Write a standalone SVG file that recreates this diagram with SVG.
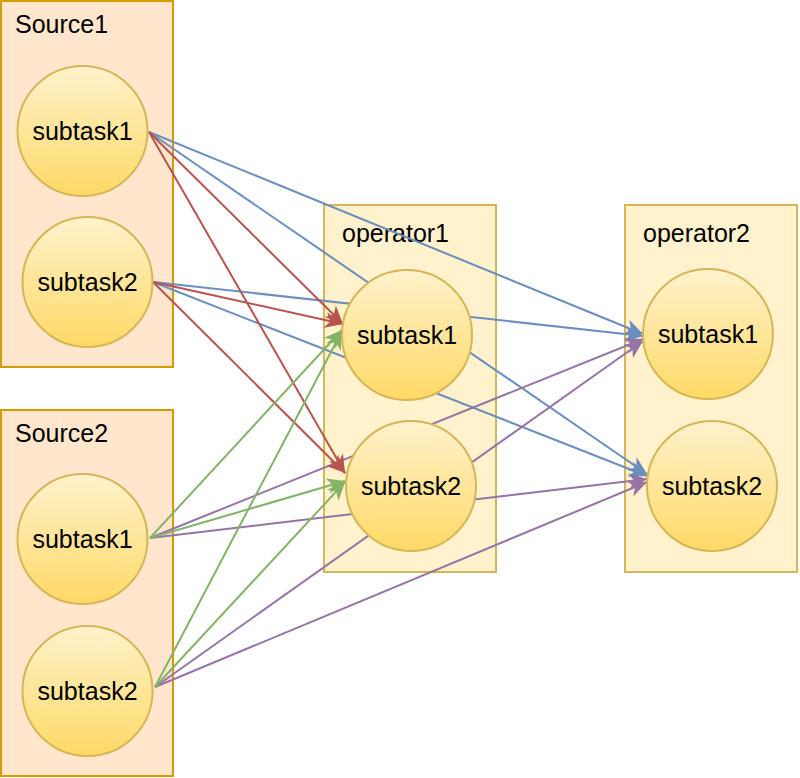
<svg xmlns="http://www.w3.org/2000/svg" width="800" height="778" viewBox="0 0 800 778">
  <style>
    .src { fill: #ffe6cc; stroke: #d79b00; stroke-width: 2; }
    .op { fill: #fff2cc; stroke: #d6b656; stroke-width: 2; }
    .task { fill: url(#taskGrad); stroke: #d6b656; stroke-width: 2; }
    text { font-family: "Liberation Sans", Arial, Helvetica, sans-serif; font-size: 25px; fill: #000; }
    .c { text-anchor: middle; }
    .e { fill: none; stroke-width: 2; }
    .red { stroke: #b85450; marker-end: url(#aRed); }
    .green { stroke: #82b366; marker-end: url(#aGreen); }
    .blue { stroke: #6c8ebf; marker-end: url(#aBlue); }
    .purple { stroke: #9673a6; marker-end: url(#aPurple); }
  </style>
  <defs>
    <linearGradient id="taskGrad" x1="0" y1="0" x2="0" y2="1">
      <stop offset="0" stop-color="#fff2cc"/>
      <stop offset="1" stop-color="#ffd966"/>
    </linearGradient>
    <marker id="aRed" markerUnits="userSpaceOnUse" markerWidth="18" markerHeight="16" viewBox="0 0 18 16" refX="18" refY="8" orient="auto">
      <path d="M0,0 L18,8 L0,16 L5,8 z" fill="#b85450"/>
    </marker>
    <marker id="aGreen" markerUnits="userSpaceOnUse" markerWidth="18" markerHeight="16" viewBox="0 0 18 16" refX="18" refY="8" orient="auto">
      <path d="M0,0 L18,8 L0,16 L5,8 z" fill="#82b366"/>
    </marker>
    <marker id="aBlue" markerUnits="userSpaceOnUse" markerWidth="18" markerHeight="16" viewBox="0 0 18 16" refX="18" refY="8" orient="auto">
      <path d="M0,0 L18,8 L0,16 L5,8 z" fill="#6c8ebf"/>
    </marker>
    <marker id="aPurple" markerUnits="userSpaceOnUse" markerWidth="18" markerHeight="16" viewBox="0 0 18 16" refX="18" refY="8" orient="auto">
      <path d="M0,0 L18,8 L0,16 L5,8 z" fill="#9673a6"/>
    </marker>
  </defs>

  <g id="containers">
    <g id="source1">
      <rect class="src" x="1" y="1" width="172" height="366"/>
      <text x="15" y="33">Source1</text>
    </g>
    <g id="source2">
      <rect class="src" x="1" y="410" width="172" height="366"/>
      <text x="15" y="442">Source2</text>
    </g>
    <g id="operator1">
      <rect class="op" x="324" y="205" width="172" height="367"/>
      <text x="342" y="242">operator1</text>
    </g>
    <g id="operator2">
      <rect class="op" x="625" y="205" width="172" height="367"/>
      <text x="643" y="242">operator2</text>
    </g>
  </g>

  <g id="connectors">
    <line class="e blue" x1="149" y1="132" x2="643" y2="334"/>
    <line class="e blue" x1="149" y1="132" x2="647" y2="474"/>
    <line class="e blue" x1="153" y1="282" x2="643" y2="336"/>
    <line class="e blue" x1="153" y1="282" x2="647" y2="476"/>
    <line class="e purple" x1="150" y1="538" x2="643" y2="339"/>
    <line class="e purple" x1="150" y1="538" x2="647" y2="479"/>
    <line class="e purple" x1="155" y1="687" x2="643" y2="341"/>
    <line class="e purple" x1="155" y1="687" x2="647" y2="482"/>
    <line class="e red" x1="149" y1="132" x2="343" y2="324"/>
    <line class="e red" x1="149" y1="132" x2="345" y2="473"/>
    <line class="e red" x1="153" y1="282" x2="343" y2="324"/>
    <line class="e red" x1="153" y1="282" x2="345" y2="473"/>
    <line class="e green" x1="150" y1="538" x2="342" y2="330"/>
    <line class="e green" x1="150" y1="538" x2="345" y2="481"/>
    <line class="e green" x1="155" y1="687" x2="342" y2="331"/>
    <line class="e green" x1="155" y1="687" x2="345" y2="482"/>
  </g>

  <g id="s1-subtask1">
    <circle class="task" cx="82.5" cy="131" r="65"/>
    <text class="c" x="82.5" y="140">subtask1</text>
  </g>
  <g id="s1-subtask2">
    <circle class="task" cx="87.5" cy="282" r="65"/>
    <text class="c" x="87.5" y="291">subtask2</text>
  </g>
  <g id="s2-subtask1">
    <circle class="task" cx="82.5" cy="539" r="65"/>
    <text class="c" x="82.5" y="548">subtask1</text>
  </g>
  <g id="s2-subtask2">
    <circle class="task" cx="87.5" cy="691" r="65"/>
    <text class="c" x="87.5" y="700">subtask2</text>
  </g>
  <g id="op1-subtask1">
    <circle class="task" cx="407" cy="335" r="65"/>
    <text class="c" x="407" y="344">subtask1</text>
  </g>
  <g id="op1-subtask2">
    <circle class="task" cx="411" cy="486" r="65"/>
    <text class="c" x="411" y="495">subtask2</text>
  </g>
  <g id="op2-subtask1">
    <circle class="task" cx="708" cy="334" r="65"/>
    <text class="c" x="708" y="343">subtask1</text>
  </g>
  <g id="op2-subtask2">
    <circle class="task" cx="712" cy="486" r="65"/>
    <text class="c" x="712" y="495">subtask2</text>
  </g>
</svg>
